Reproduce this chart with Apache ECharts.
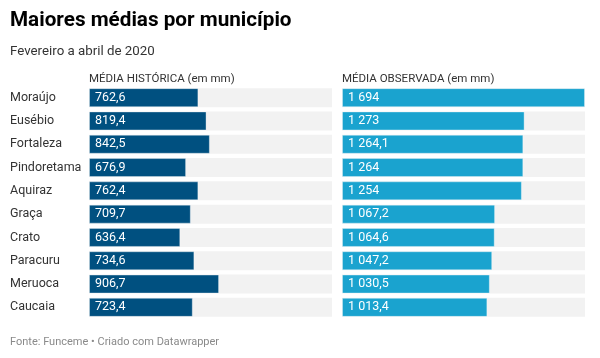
<!DOCTYPE html>
<html><head><meta charset="utf-8">
<script src="https://cdn.jsdelivr.net/npm/echarts@6/dist/echarts.min.js"></script>
<style>html,body{margin:0;padding:0;background:#fff}#c{width:600px;height:358px}</style>
</head><body><div id="c"></div>
<script>
const categories = ["Moraújo","Eusébio","Fortaleza","Pindoretama","Aquiraz","Graça","Crato","Paracuru","Meruoca","Caucaia"];
const historica = [762.6, 819.4, 842.5, 676.9, 762.4, 709.7, 636.4, 734.6, 906.7, 723.4];
const observada = [1694, 1273, 1264.1, 1264, 1254, 1067.2, 1064.6, 1047.2, 1030.5, 1013.4];
const maxVal = 1694;

function fmt(v){
  const parts = v.toString().split('.');
  let i = parts[0];
  if (i.length > 3) i = i.slice(0, i.length-3) + ' ' + i.slice(-3);
  return parts.length > 1 ? i + ',' + parts[1] : i;
}
const F = 'Roboto, sans-serif';
const chart = echarts.init(document.getElementById('c'));
const gridTop = 86, gridH = 233;
const bg = categories.map(() => maxVal);
function catAxis(idx, show){
  return {type:'category', gridIndex:idx, data:categories, inverse:true,
    axisLine:{show:false}, axisTick:{show:false},
    axisLabel:{show:show, align:'left', margin:79, color:'#333', fontSize:12.5, fontFamily:F}};
}
function valAxis(idx){
  return {type:'value', gridIndex:idx, min:0, max:maxVal, show:false};
}
function series(idx, data, color){
  return [
    {type:'bar', xAxisIndex:idx, yAxisIndex:idx, data:bg, barWidth:19, barGap:'-100%',
     itemStyle:{color:'#f2f2f2'}, silent:true, z:1},
    {type:'bar', xAxisIndex:idx, yAxisIndex:idx, data:data, barWidth:19,
     itemStyle:{color:color, borderColor:'rgba(255,255,255,0.35)', borderWidth:1}, z:2,
     label:{show:true, position:'insideLeft', offset:[1,0], color:'#fff', fontSize:12.5, fontFamily:F,
       formatter:p => fmt(p.value)}}
  ];
}
chart.setOption({
  animation:false,
  title:[
    {text:'Maiores médias por município', left:5, top:5, textStyle:{fontFamily:F, fontSize:20.7, fontWeight:'bold', color:'#000'}},
    {text:'Fevereiro a abril de 2020', left:5, top:40, textStyle:{fontFamily:F, fontSize:13.3, fontWeight:'normal', color:'#333'}},
    {text:'MÉDIA HISTÓRICA (em mm)', left:84, top:68, textStyle:{fontFamily:F, fontSize:11.5, fontWeight:'normal', color:'#333'}},
    {text:'MÉDIA OBSERVADA (em mm)', left:337, top:68, textStyle:{fontFamily:F, fontSize:11.5, fontWeight:'normal', color:'#333'}},
    {text:'Fonte: Funceme • Criado com Datawrapper', left:5, top:332, textStyle:{fontFamily:F, fontSize:11, fontWeight:'normal', color:'#8a8a8a'}}
  ],
  grid:[
    {left:89, top:gridTop, width:243, height:gridH},
    {left:342, top:gridTop, width:243, height:gridH}
  ],
  xAxis:[valAxis(0), valAxis(1)],
  yAxis:[catAxis(0, true), catAxis(1, false)],
  series:[...series(0, historica, '#005080'), ...series(1, observada, '#1aa3cf')]
});
</script></body></html>
